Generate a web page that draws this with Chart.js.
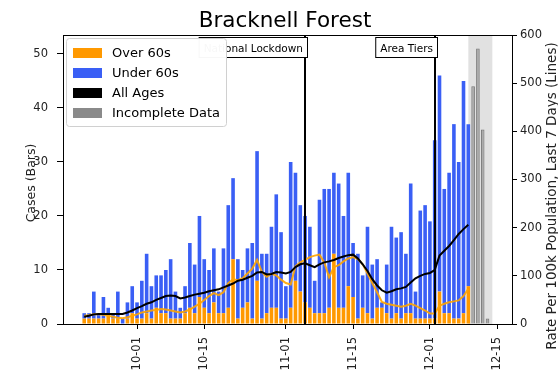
<!DOCTYPE html>
<html>
<head>
<meta charset="utf-8">
<script src="https://cdn.jsdelivr.net/npm/chart.js@4.4.0/dist/chart.umd.min.js"></script>
<style>
  html, body { margin: 0; padding: 0; background: #fff; }
  #wrap { width: 558px; height: 375px; }
</style>
</head>
<body>
<div id="wrap"><canvas id="chart"></canvas></div>
<script>
const dates = [
  "2020-09-20", "2020-09-21", "2020-09-22", "2020-09-23", "2020-09-24", "2020-09-25", "2020-09-26",
  "2020-09-27", "2020-09-28", "2020-09-29", "2020-09-30",
  "2020-10-01", "2020-10-02", "2020-10-03", "2020-10-04", "2020-10-05", "2020-10-06", "2020-10-07",
  "2020-10-08", "2020-10-09", "2020-10-10", "2020-10-11", "2020-10-12", "2020-10-13", "2020-10-14",
  "2020-10-15", "2020-10-16", "2020-10-17", "2020-10-18", "2020-10-19", "2020-10-20", "2020-10-21",
  "2020-10-22", "2020-10-23", "2020-10-24", "2020-10-25", "2020-10-26", "2020-10-27", "2020-10-28",
  "2020-10-29", "2020-10-30", "2020-10-31",
  "2020-11-01", "2020-11-02", "2020-11-03", "2020-11-04", "2020-11-05", "2020-11-06", "2020-11-07",
  "2020-11-08", "2020-11-09", "2020-11-10", "2020-11-11", "2020-11-12", "2020-11-13", "2020-11-14",
  "2020-11-15", "2020-11-16", "2020-11-17", "2020-11-18", "2020-11-19", "2020-11-20", "2020-11-21",
  "2020-11-22", "2020-11-23", "2020-11-24", "2020-11-25", "2020-11-26", "2020-11-27", "2020-11-28",
  "2020-11-29", "2020-11-30",
  "2020-12-01", "2020-12-02", "2020-12-03", "2020-12-04", "2020-12-05", "2020-12-06", "2020-12-07",
  "2020-12-08", "2020-12-09", "2020-12-10", "2020-12-11", "2020-12-12", "2020-12-13",
];

// daily cases (left axis, bars)
const over60 = [
  1, 1, 1, 1, 1, 2, 1, 1, 0, 1, 2,
  1, 1, 2, 1, 3, 2, 2, 1, 1, 1, 2, 3, 2, 5, 3, 2, 4, 2, 2, 3, 12, 1, 3, 4, 1, 8, 1, 2, 3, 3, 1,
  1, 3, 8, 6, 4, 3, 2, 2, 2, 3, 13, 3, 3, 7, 5, 1, 3, 2, 1, 3, 3, 2, 1, 2, 1, 2, 2, 1, 1, 1,
  1, 1, 6, 2, 2, 1, 1, 2, 7, null, null, null, null,
];
const under60 = [
  1, 1, 5, 1, 4, 1, 1, 5, 1, 3, 5,
  3, 7, 11, 6, 6, 7, 8, 11, 5, 2, 5, 12, 9, 15, 9, 8, 10, 4, 12, 19, 15, 11, 7, 10, 14, 24, 12, 11, 15, 21, 16,
  6, 27, 20, 16, 16, 15, 6, 21, 23, 22, 15, 23, 17, 21, 10, 12, 6, 16, 10, 9, 1, 9, 17, 14, 16, 11, 24, 5, 20, 21,
  18, 33, 40, 23, 26, 36, 29, 43, 30, null, null, null, null,
];
const incomplete = [
  null, null, null, null, null, null, null, null, null, null, null,
  null, null, null, null, null, null, null, null, null, null, null, null, null, null, null, null,
  null, null, null, null, null, null, null, null, null, null, null, null, null, null, null,
  null, null, null, null, null, null, null, null, null, null, null, null, null, null, null, null,
  null, null, null, null, null, null, null, null, null, null, null, null, null, null,
  null, null, null, null, null, null, null, null, null, 44, 51, 36, 1,
];

// rate per 100k, last 7 days (right axis, lines)
const rateAll = [
  15, 17, 20, 21, 21, 21, 21, 21, 21, 24, 28,
  33, 37, 42, 45, 50, 54, 58, 59, 58, 53, 55, 58, 61, 63, 65, 68, 70, 72, 76, 80, 84, 90, 92, 96, 100, 107, 108, 103, 104, 108, 107,
  105, 108, 118, 124, 126, 122, 118, 124, 128, 130, 133, 137, 140, 143, 144, 136, 124, 110, 93, 80, 70, 65, 68, 72, 74, 77, 86, 95, 100, 104,
  106, 112, 142, 152, 162, 174, 187, 197, 206, null, null, null, null,
];
const rateOver60 = [
  17, 18, 20, 20, 19, 17, 15, 13, 12, 14, 17,
  20, 24, 26, 28, 29, 31, 30, 28, 26, 24, 26, 30, 36, 42, 50, 58, 64, 60, 66, 85, 93, 91, 95, 105, 115, 133, 108, 98, 104, 101, 92,
  85, 82, 120, 128, 133, 139, 142, 144, 128, 97, 118, 122, 130, 136, 139, 135, 124, 105, 85, 66, 46, 42, 40, 38, 36, 38, 42, 38, 33, 28,
  22, 22, 38, 42, 45, 47, 49, 58, 73, null, null, null, null,
];

const tickDates = ["2020-10-01", "2020-10-15", "2020-11-01", "2020-11-15", "2020-12-01", "2020-12-15"];
const leftTicks = [0, 10, 20, 30, 40, 50];
const rightTicks = [0, 100, 200, 300, 400, 500, 600];
const eventDates = ["2020-11-05", "2020-12-02"];
const eventLabels = ["National Lockdown", "Area Tiers"];
const shadeDates = ["2020-12-09", "2020-12-14"];

const FONT = "'DejaVu Sans', sans-serif";
const ORANGE = "#ff9900";
const BLUE = "#3a5ff5";
const GREY = "#8a8a8a";

const dayNum = (s) =>
  Date.UTC(+s.slice(0, 4), +s.slice(5, 7) - 1, +s.slice(8, 10)) / 86400000;
const pts = (arr) => dates.map((d, i) => ({ x: dayNum(d), y: arr[i] }));

const legendItems = [
  { label: "Over 60s", color: ORANGE },
  { label: "Under 60s", color: BLUE },
  { label: "All Ages", color: "#000" },
  { label: "Incomplete Data", color: GREY },
];

const decor = {
  id: "decor",
  beforeDatasetsDraw(chart) {
    const { ctx, chartArea: a, scales } = chart;
    const x0 = scales.x.getPixelForValue(dayNum(shadeDates[0]));
    const x1 = scales.x.getPixelForValue(dayNum(shadeDates[1]));
    ctx.save();
    ctx.fillStyle = "rgba(170,170,170,0.35)";
    ctx.fillRect(x0, a.top, x1 - x0, a.bottom - a.top);
    ctx.restore();
  },
  afterDatasetsDraw(chart) {
    const { ctx, chartArea: a, scales } = chart;
    ctx.save();

    // event markers
    eventDates.forEach((d, i) => {
      const px = Math.round(scales.x.getPixelForValue(dayNum(d)));
      ctx.strokeStyle = "#000";
      ctx.lineWidth = 2;
      ctx.beginPath();
      ctx.moveTo(px, a.top);
      ctx.lineTo(px, a.bottom);
      ctx.stroke();

      ctx.font = "10.5px " + FONT;
      const w = ctx.measureText(eventLabels[i]).width;
      const right = px - 2;
      ctx.fillStyle = "#fff";
      ctx.fillRect(right - w - 5, a.top + 2, w + 9, 20);
      ctx.strokeStyle = "#000";
      ctx.lineWidth = 1;
      ctx.strokeRect(right - w - 5 + 0.5, a.top + 2.5, w + 9, 20);
      ctx.fillStyle = "#000";
      ctx.textAlign = "right";
      ctx.textBaseline = "alphabetic";
      ctx.fillText(eventLabels[i], right, a.top + 17);
    });

    // top spine
    ctx.strokeStyle = "#000";
    ctx.lineWidth = 1;
    ctx.beginPath();
    ctx.moveTo(a.left, a.top + 0.5);
    ctx.lineTo(a.right, a.top + 0.5);
    ctx.stroke();

    // legend box
    const lx = a.left + 3, ly = a.top + 3, lw = 160, lh = 88;
    ctx.fillStyle = "rgba(255,255,255,0.97)";
    ctx.strokeStyle = "#d0d0d0";
    ctx.beginPath();
    ctx.roundRect(lx + 0.5, ly + 0.5, lw, lh, 3);
    ctx.fill();
    ctx.stroke();
    ctx.font = "13px " + FONT;
    ctx.textAlign = "left";
    ctx.textBaseline = "middle";
    legendItems.forEach((it, i) => {
      const cy = ly + 15 + i * 20;
      ctx.fillStyle = it.color;
      ctx.fillRect(lx + 7, cy - 5, 29, 10);
      ctx.fillStyle = "#000";
      ctx.fillText(it.label, lx + 46, cy + 1);
    });
    ctx.restore();
  },
  afterDraw(chart) {
    const { ctx } = chart;
    ctx.save();
    ctx.fillStyle = "#000";
    ctx.textAlign = "center";
    ctx.textBaseline = "alphabetic";
    ctx.font = "21.5px " + FONT;
    ctx.fillText("Bracknell Forest", 285, 27);

    ctx.fillStyle = "#222";
    ctx.font = "12.5px " + FONT;
    ctx.translate(35, 183);
    ctx.rotate(-Math.PI / 2);
    ctx.fillText("Cases (Bars)", 0, 0);
    ctx.restore();

    ctx.save();
    ctx.fillStyle = "#222";
    ctx.textAlign = "center";
    ctx.textBaseline = "alphabetic";
    ctx.font = "13.5px " + FONT;
    ctx.translate(556, 196);
    ctx.rotate(-Math.PI / 2);
    ctx.fillText("Rate Per 100k Population, Last 7 Days (Lines)", 0, 0);
    ctx.restore();
  },
};

const tickFont = { family: FONT, size: 11.5 };
const barStyle = {
  grouped: false,
  barPercentage: 0.8,
  categoryPercentage: 1,
  maxBarThickness: 3.6,
};

new Chart(document.getElementById("chart"), {
  type: "bar",
  data: {
    datasets: [
      {
        type: "line",
        label: "All Ages",
        data: pts(rateAll),
        yAxisID: "y1",
        borderColor: "#000",
        borderWidth: 2,
        pointRadius: 0,
        tension: 0,
        order: 0,
      },
      {
        type: "line",
        label: "Over 60s rate",
        data: pts(rateOver60),
        yAxisID: "y1",
        borderColor: "rgba(255,165,0,0.9)",
        borderWidth: 2,
        pointRadius: 0,
        tension: 0,
        order: 0.5,
      },
      {
        label: "Over 60s",
        data: pts(over60),
        backgroundColor: ORANGE,
        ...barStyle,
        order: 1,
      },
      {
        label: "Under 60s",
        data: pts(under60),
        backgroundColor: BLUE,
        ...barStyle,
        order: 2,
      },
      {
        label: "Incomplete Data",
        data: pts(incomplete),
        backgroundColor: "rgba(128,128,128,0.55)",
        borderColor: "rgba(100,100,100,0.85)",
        borderWidth: 1,
        ...barStyle,
        order: 3,
      },
    ],
  },
  options: {
    animation: false,
    responsive: true,
    maintainAspectRatio: false,
    layout: { padding: { top: 35 } },
    plugins: {
      legend: { display: false },
      tooltip: { enabled: false },
    },
    scales: {
      x: {
        type: "linear",
        offset: false,
        min: dayNum("2020-09-15") + 0.58,
        max: dayNum("2020-12-18") + 0.1,
        afterBuildTicks: (scale) => {
          scale.ticks = tickDates.map((d) => ({ value: dayNum(d) }));
        },
        afterFit: (scale) => {
          scale.height = 51;
        },
        grid: {
          offset: false,
          drawOnChartArea: false,
          tickLength: 5,
          tickColor: "#000",
        },
        border: { color: "#000" },
        ticks: {
          autoSkip: false,
          minRotation: 90,
          maxRotation: 90,
          padding: 8,
          color: "#222",
          font: tickFont,
          callback: (v) => new Date(v * 86400000).toISOString().slice(5, 10),
        },
      },
      y: {
        position: "left",
        stacked: true,
        min: 0,
        max: 53.5,
        afterBuildTicks: (scale) => {
          scale.ticks = leftTicks.map((v) => ({ value: v }));
        },
        afterFit: (scale) => {
          scale.width = 63;
        },
        grid: {
          drawOnChartArea: false,
          tickLength: 6,
          tickColor: "#000",
        },
        border: { color: "#000" },
        ticks: { padding: 9, color: "#222", font: tickFont },
      },
      y1: {
        position: "right",
        min: 0,
        max: 600,
        afterBuildTicks: (scale) => {
          scale.ticks = rightTicks.map((v) => ({ value: v }));
        },
        afterFit: (scale) => {
          scale.width = 46;
        },
        grid: {
          drawOnChartArea: false,
          tickLength: 5,
          tickColor: "#000",
        },
        border: { color: "#000" },
        ticks: { padding: 3, color: "#222", font: tickFont },
      },
    },
  },
  plugins: [decor],
});
</script>
</body>
</html>
